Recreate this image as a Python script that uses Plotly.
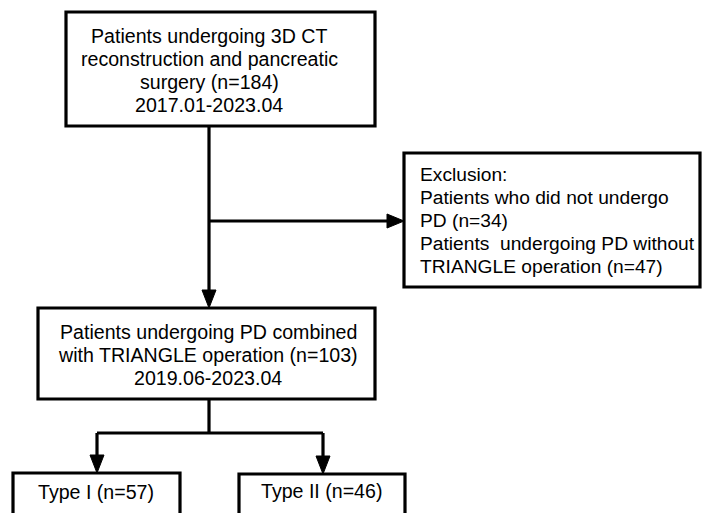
import plotly.graph_objects as go

# ---- content ----
top_lines = ["Patients undergoing 3D CT", "reconstruction and pancreatic",
             "surgery (n=184)", "2017.01-2023.04"]
excl_lines = ["Exclusion:", "Patients who did not undergo", "PD (n=34)",
              "Patients  undergoing PD without", "TRIANGLE operation (n=47)"]
mid_lines = ["Patients undergoing PD combined", "with TRIANGLE operation (n=103)",
             "2019.06-2023.04"]
type_labels = ["Type I (n=57)", "Type II (n=46)"]

# ---- layout geometry (pixels) ----
W, H = 703, 513
FONT = dict(family="Liberation Sans, Arial, sans-serif", size=19.6, color="black")
FONT_EX = dict(family="Liberation Sans, Arial, sans-serif", size=19.2, color="black")
LW = 3.2

fig = go.Figure()
shapes = []
annos = []

def box(x0, y0, x1, y1):
    shapes.append(dict(type="rect", x0=x0, y0=y0, x1=x1, y1=y1, xref="x", yref="y",
                       line=dict(color="black", width=LW), fillcolor="white", layer="above"))

def line(x0, y0, x1, y1):
    shapes.append(dict(type="line", x0=x0, y0=y0, x1=x1, y1=y1, xref="x", yref="y",
                       line=dict(color="black", width=LW), layer="above"))

def arrow_down(x, ytip, L=18, hw=7):
    shapes.append(dict(type="path", path=f"M {x-hw} {ytip-L} L {x+hw} {ytip-L} L {x} {ytip} Z",
                       xref="x", yref="y", fillcolor="black", line=dict(color="black", width=1), layer="above"))

def arrow_right(xtip, y, L=17, hw=7):
    shapes.append(dict(type="path", path=f"M {xtip-L} {y-hw} L {xtip-L} {y+hw} L {xtip} {y} Z",
                       xref="x", yref="y", fillcolor="black", line=dict(color="black", width=1), layer="above"))

def text(x, y, s, align="center", font=FONT):
    annos.append(dict(x=x, y=y, xref="x", yref="y", text=s, showarrow=False,
                      font=font, xanchor=align, yanchor="middle"))

# connectors
line(209, 126, 209, 292)
arrow_down(209, 308)
line(209, 221, 388, 221)
arrow_right(404, 221)
line(209, 399, 209, 433)
line(97, 433, 323, 433)
line(97, 433, 97, 457)
arrow_down(97, 473)
line(323, 433, 323, 458)
arrow_down(323, 474)

# boxes
box(66, 12, 375, 126)
box(404, 153, 700, 287)
box(38, 308, 375, 399)
box(13, 473, 180, 540)
box(239, 474, 405, 540)

# texts
for i, s in enumerate(top_lines):
    text(209, 36 + i * 23, s)
for i, s in enumerate(excl_lines):
    text(418, 174 + i * 23, s, align="left", font=FONT_EX)
for i, s in enumerate(mid_lines):
    text(208, 332 + i * 23, s)
text(96, 492, type_labels[0])
text(321, 491, type_labels[1])

fig.update_layout(
    width=W, height=H, margin=dict(l=0, r=0, t=0, b=0),
    paper_bgcolor="white", plot_bgcolor="white",
    xaxis=dict(range=[0, W], visible=False, fixedrange=True),
    yaxis=dict(range=[H, 0], visible=False, fixedrange=True),
    shapes=shapes, annotations=annos, showlegend=False,
)
fig.write_html("out.html", config={"displayModeBar": False},
               post_script="document.body.style.margin='0';document.body.style.overflow='hidden';")
